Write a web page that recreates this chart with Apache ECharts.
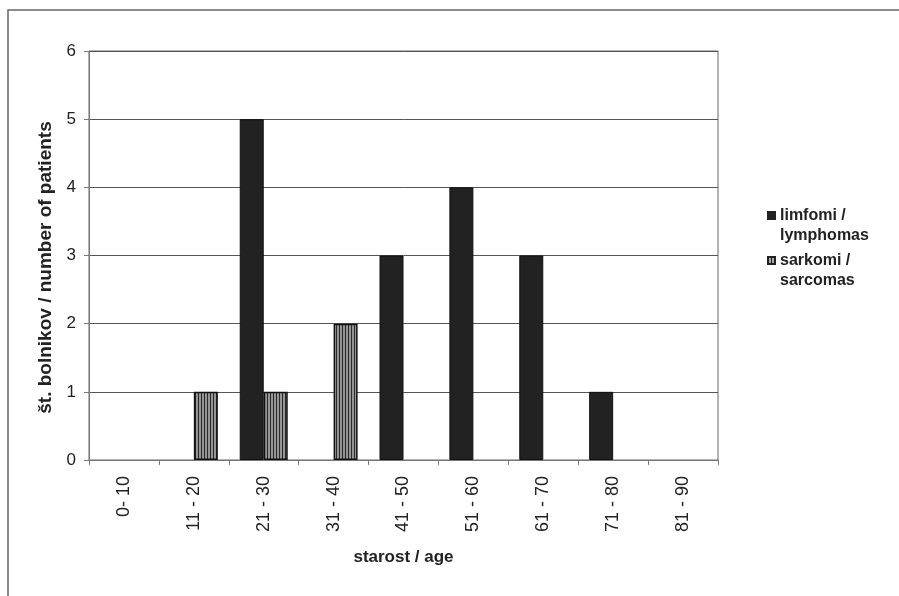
<!DOCTYPE html>
<html><head><meta charset="utf-8">
<script src="https://cdn.jsdelivr.net/npm/echarts@6/dist/echarts.min.js"></script>
<style>html,body{margin:0;padding:0;background:#fff}#c{width:899px;height:596px}</style>
</head><body><div id="c"></div>
<script>
const categories = ['0- 10','11 - 20','21 - 30','31 - 40','41 - 50','51 - 60','61 - 70','71 - 80','81 - 90'];
const limfomi = [0,0,5,0,3,4,3,1,0];
const sarkomi = [0,1,1,2,0,0,0,0,0];
const yTicks = [0,1,2,3,4,5,6];
const seriesNames = ['limfomi /\nlymphomas','sarkomi /\nsarcomas'];

function stripeCanvas(){
  const c=document.createElement('canvas'); c.width=3; c.height=4;
  const g=c.getContext('2d');
  g.fillStyle='#959595'; g.fillRect(0,0,3,4);
  g.fillStyle='#2a2a2a'; g.fillRect(0,0,1,4);
  return c;
}
function iconURL(striped){
  const c=document.createElement('canvas'); c.width=9; c.height=30;
  const g=c.getContext('2d');
  g.fillStyle='#222'; g.fillRect(0,0,9,9);
  if(striped){
    g.fillStyle='#aaa'; g.fillRect(2,2,5,5);
    g.fillStyle='#222'; g.fillRect(4,2,1,5);
  }
  return 'image://'+c.toDataURL();
}
const hideZero = arr => arr.map(v => v === 0 ? null : v);
const chart=echarts.init(document.getElementById('c'),null,{renderer:'canvas'});
const font='Liberation Sans, Arial, sans-serif';
chart.setOption({
  animation:false,
  backgroundColor:'#fff',
  grid:{left:89,top:51,width:629,height:409,show:true,borderColor:'#666',borderWidth:1,backgroundColor:'transparent'},
  graphic:[{type:'rect',shape:{x:8,y:10,width:1000,height:800},style:{fill:'none',stroke:'#666',lineWidth:1.5},silent:true}],
  legend:{
    orient:'vertical', left:762, top:201, itemGap:5, itemWidth:9, itemHeight:30,
    textStyle:{fontFamily:font,fontWeight:'bold',fontSize:16,color:'#222',lineHeight:20,padding:[0,0,0,-1]},
    data:[{name:seriesNames[0],icon:iconURL(false)},{name:seriesNames[1],icon:iconURL(true)}]
  },
  xAxis:{
    type:'category', data:categories,
    axisLine:{lineStyle:{color:'#777',width:1}},
    axisTick:{show:true,length:5,lineStyle:{color:'#777'}},
    axisLabel:{rotate:90,margin:16,fontFamily:font,fontSize:18,color:'#222'},
    name:'starost / age', nameLocation:'middle', nameGap:89,
    nameTextStyle:{fontFamily:font,fontWeight:'bold',fontSize:17,color:'#222'}
  },
  yAxis:{
    type:'value', min:yTicks[0], max:yTicks[yTicks.length-1], interval:1,
    axisLine:{show:true,lineStyle:{color:'#777',width:1}},
    axisTick:{show:true,length:5,lineStyle:{color:'#777'}},
    splitLine:{lineStyle:{color:'#555',width:1}},
    axisLabel:{margin:13,fontFamily:font,fontSize:17,color:'#222'},
    name:'št. bolnikov / number of patients', nameLocation:'middle', nameGap:28,
    nameTextStyle:{fontFamily:font,fontWeight:'bold',fontSize:19,color:'#222',padding:[0,24,0,0]}
  },
  series:[
    {name:seriesNames[0],type:'bar',data:hideZero(limfomi),barWidth:24,barGap:'0%',
     itemStyle:{color:'#222',borderColor:'#111',borderWidth:1}},
    {name:seriesNames[1],type:'bar',data:hideZero(sarkomi),barWidth:24,barGap:'0%',
     itemStyle:{color:{image:stripeCanvas(),repeat:'repeat'},borderColor:'#111',borderWidth:1.5}}
  ]
});
</script></body></html>
